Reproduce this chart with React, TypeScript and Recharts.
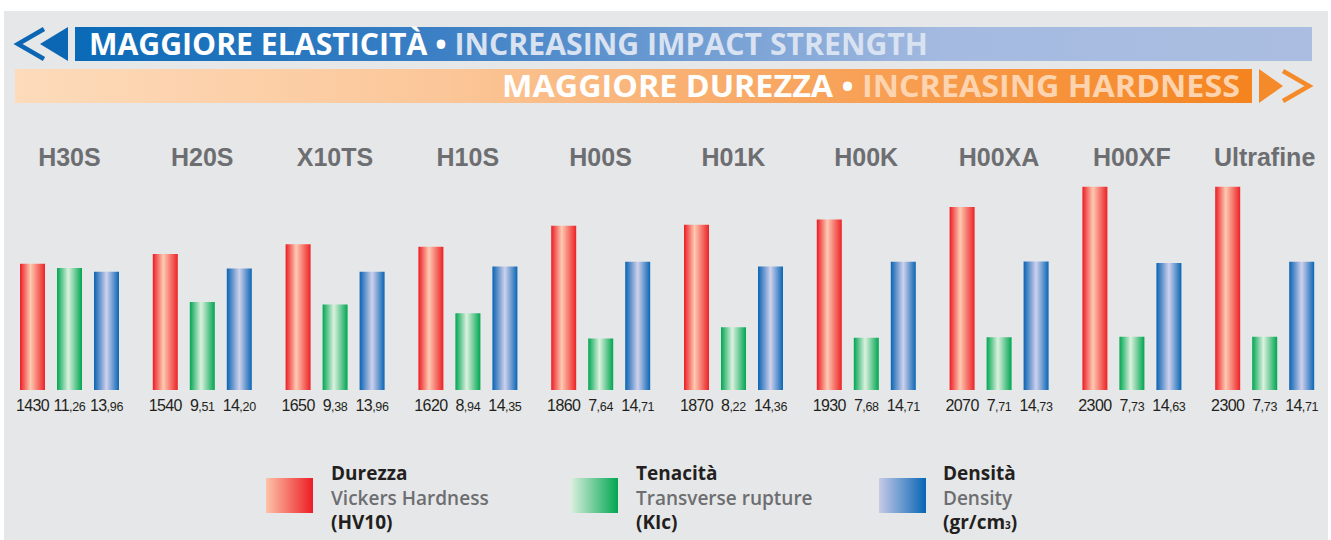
import React from 'react';
import { BarChart, Bar, XAxis, YAxis, Legend, LabelList } from 'recharts';

// ---- data ----
const grades = ['H30S', 'H20S', 'X10TS', 'H10S', 'H00S', 'H01K', 'H00K', 'H00XA', 'H00XF', 'Ultrafine'];
const hardness = [1430, 1540, 1650, 1620, 1860, 1870, 1930, 2070, 2300, 2300];
const toughness = [11.26, 9.51, 9.38, 8.94, 7.64, 8.22, 7.68, 7.71, 7.73, 7.73];
const density = [13.96, 14.2, 13.96, 14.35, 14.71, 14.36, 14.71, 14.73, 14.63, 14.71];

const seriesKeys = ['hv', 'klc', 'den'];
const legendTitles = ['Durezza', 'Tenacità', 'Densità'];
const legendSubtitles = ['Vickers Hardness', 'Transverse rupture', 'Density'];
const legendUnits = ['(HV10)', '(KIc)', '(gr/cm|3|)'];

const bannerTop = ['MAGGIORE ELASTICITÀ •', ' INCREASING IMPACT STRENGTH'];
const bannerBottom = ['MAGGIORE DUREZZA •', ' INCREASING HARDNESS'];

const data = grades.map((g, i) => ({ grade: g, hv: hardness[i], klc: toughness[i], den: density[i] }));

// ---- styles ----
const W = 1331;
const H = 540;
const barFills = ['url(#gRed)', 'url(#gGreen)', 'url(#gBlue)'];
const swatchBg = [
  'linear-gradient(to right, #fdc3a9, #ed1c24)',
  'linear-gradient(to right, #d9efdd, #00a651)',
  'linear-gradient(to right, #c6cae7, #0765b5)',
];
const swatchX = [266, 571, 879];
const textX = [331, 636, 943];

const valueLabel = (decimals: boolean) => (props: any) => {
  const { x, y, width, height, value } = props;
  const cx = Number(x) + Number(width) / 2;
  const base = Number(y) + Number(height) + 21;
  let main = String(value);
  let frac = '';
  if (decimals) {
    const s = Number(value).toFixed(2).split('.');
    main = s[0];
    frac = ',' + s[1];
  }
  return (
    <text x={cx} y={base} textAnchor="middle" fill="#231f20" fontFamily="'Liberation Sans', Arial, sans-serif" fontSize={16} letterSpacing={-0.6}>
      <tspan>{main}</tspan>
      {frac && <tspan fontSize={12.5} letterSpacing={-0.3}>{frac}</tspan>}
    </text>
  );
};

const GradeTick = (props: any) => {
  const { x, y, payload } = props;
  return (
    <text x={x} y={y} textAnchor="middle" fill="#6d6e71" fontFamily="'Liberation Sans', Arial, sans-serif" fontWeight={700} fontSize={25}>
      {payload.value}
    </text>
  );
};

const renderUnit = (u: string) => {
  const parts = u.split('|');
  return parts.map((p, i) => (i % 2 === 1 ? <span key={i} style={{ fontSize: 10 }}>{p}</span> : <span key={i}>{p}</span>));
};

const LegendContent = () => (
  <div style={{ position: 'relative', width: W, height: 90 }}>
    {seriesKeys.map((k, i) => (
      <React.Fragment key={k}>
        <div style={{ position: 'absolute', left: swatchX[i], top: 28, width: 47, height: 35, background: swatchBg[i] }} />
        <div style={{ position: 'absolute', left: textX[i], top: 11, fontFamily: "'Open Sans', sans-serif", fontSize: 19, lineHeight: '24.5px', whiteSpace: 'nowrap' }}>
          <div style={{ fontWeight: 700, color: '#231f20' }}>{legendTitles[i]}</div>
          <div style={{ fontWeight: 600, color: '#6d6e71' }}>{legendSubtitles[i]}</div>
          <div style={{ fontWeight: 700, color: '#231f20' }}>{renderUnit(legendUnits[i])}</div>
        </div>
      </React.Fragment>
    ))}
  </div>
);

const Banners = () => (
  <svg width={W} height={120} style={{ position: 'absolute', left: 0, top: 0 }}>
    <defs>
      <linearGradient id="bnBlue" x1="0" x2="1" y1="0" y2="0">
        <stop offset="0" stopColor="#0a6ab7" />
        <stop offset="0.3" stopColor="#3d80c5" />
        <stop offset="0.7" stopColor="#a4bae0" />
        <stop offset="1" stopColor="#abbee1" />
      </linearGradient>
      <linearGradient id="bnOrange" x1="0" x2="1" y1="0" y2="0">
        <stop offset="0" stopColor="#fddbbb" />
        <stop offset="0.35" stopColor="#fbc698" />
        <stop offset="0.65" stopColor="#f8a45c" />
        <stop offset="1" stopColor="#f5841f" />
      </linearGradient>
    </defs>
    <rect x={75} y={27} width={1237} height={34} fill="url(#bnBlue)" />
    <polyline points="44,29 18,44 44,59" fill="none" stroke="#0b66b3" strokeWidth={4.5} />
    <polygon points="68,27 68,61 40,44" fill="#0b66b3" />
    <text x={89} y={55} fontFamily="'Open Sans', sans-serif" fontWeight={700} fontSize={30} textLength={839} lengthAdjust="spacingAndGlyphs">
      <tspan fill="#ffffff">{bannerTop[0]}</tspan>
      <tspan fill="#d9e2f1">{bannerTop[1]}</tspan>
    </text>
    <rect x={15} y={69} width={1237} height={34} fill="url(#bnOrange)" />
    <polygon points="1259,69 1259,103 1283,86" fill="#f58a2a" />
    <polyline points="1283,71 1309,86 1283,101" fill="none" stroke="#f58a2a" strokeWidth={4.5} />
    <text x={502} y={97} fontFamily="'Open Sans', sans-serif" fontWeight={700} fontSize={30} textLength={738} lengthAdjust="spacingAndGlyphs">
      <tspan fill="#ffffff">{bannerBottom[0]}</tspan>
      <tspan fill="#fdd4af">{bannerBottom[1]}</tspan>
    </text>
  </svg>
);

export default function App() {
  return (
    <div style={{ position: 'absolute', left: 0, top: 0, width: W, height: H, background: '#ffffff', overflow: 'hidden' }}>
      <div style={{ position: 'absolute', left: 4, top: 11, width: 1324, height: 529, background: '#e6e7e8' }} />
      <Banners />
      <div style={{ position: 'absolute', left: 0, top: 0 }}>
        <BarChart width={W} height={H} data={data} margin={{ top: 130, right: 0, left: 3, bottom: 150 }} barGap={12}>
          <defs>
            <linearGradient id="gRed" x1="0" x2="1" y1="0" y2="0">
              <stop offset="0" stopColor="#ed1c24" />
              <stop offset="0.42" stopColor="#fdcab2" />
              <stop offset="1" stopColor="#ed2226" />
            </linearGradient>
            <linearGradient id="gGreen" x1="0" x2="1" y1="0" y2="0">
              <stop offset="0" stopColor="#00a651" />
              <stop offset="0.45" stopColor="#dcf1df" />
              <stop offset="1" stopColor="#00a651" />
            </linearGradient>
            <linearGradient id="gBlue" x1="0" x2="1" y1="0" y2="0">
              <stop offset="0" stopColor="#0a63b3" />
              <stop offset="0.5" stopColor="#cfd1ec" />
              <stop offset="1" stopColor="#0a66b5" />
            </linearGradient>
          </defs>
          <XAxis dataKey="grade" orientation="top" height={40} axisLine={false} tickLine={false} tickSize={0} tickMargin={4} interval={0} tick={<GradeTick />} />
          <YAxis yAxisId="hv" hide domain={[0, 2490]} />
          <YAxis yAxisId="klc" hide domain={[5, 16.28]} />
          <YAxis yAxisId="den" hide domain={[5, 21.67]} />
          <Legend layout="horizontal" verticalAlign="middle" align="center" wrapperStyle={{ left: 0, top: 450, width: W, height: 90 }} content={<LegendContent />} />
          <Bar dataKey="hv" yAxisId="hv" name={legendTitles[0]} fill={barFills[0]} barSize={25} isAnimationActive={false}>
            <LabelList dataKey="hv" content={valueLabel(false)} />
          </Bar>
          <Bar dataKey="klc" yAxisId="klc" name={legendTitles[1]} fill={barFills[1]} barSize={25} isAnimationActive={false}>
            <LabelList dataKey="klc" content={valueLabel(true)} />
          </Bar>
          <Bar dataKey="den" yAxisId="den" name={legendTitles[2]} fill={barFills[2]} barSize={25} isAnimationActive={false}>
            <LabelList dataKey="den" content={valueLabel(true)} />
          </Bar>
        </BarChart>
      </div>
    </div>
  );
}
